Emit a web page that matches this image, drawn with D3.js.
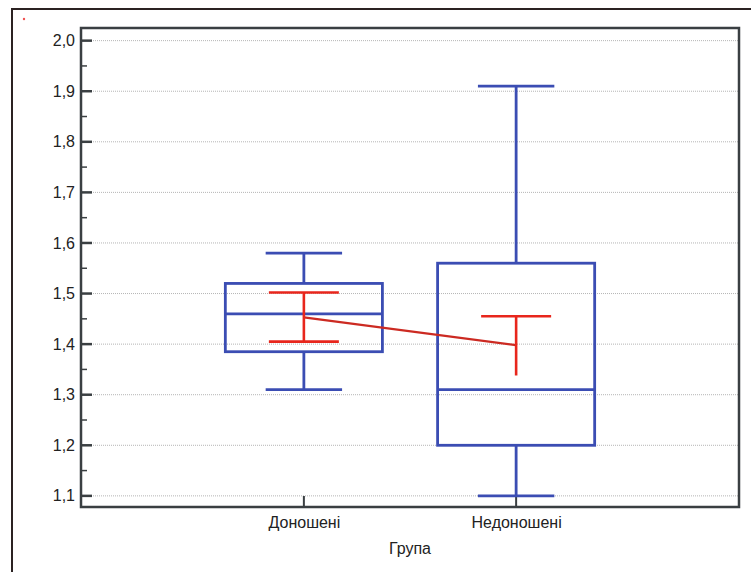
<!DOCTYPE html>
<html>
<head>
<meta charset="utf-8">
<script src="https://cdnjs.cloudflare.com/ajax/libs/d3/7.8.5/d3.min.js"></script>
<style>
  body { margin: 0; background: #fff; }
  text { font-family: "Liberation Sans", Arial, sans-serif; fill: #222; }
</style>
</head>
<body>
<script>
// groups and box-plot values
var groups = ['Доношені', 'Недоношені'];
var whiskerHigh = [1.58, 1.91];
var q3 = [1.52, 1.56];
var median = [1.46, 1.31];
var q1 = [1.385, 1.20];
var whiskerLow = [1.31, 1.10];
// mean and confidence interval (red)
var mean = [1.453, 1.398];
var ciHigh = [1.502, 1.455];
var ciLow = [1.405, 1.338];
var ciLowCap = [true, false];
var yTicks = [1.1, 1.2, 1.3, 1.4, 1.5, 1.6, 1.7, 1.8, 1.9, 2.0];
var xTitle = 'Група';

var width = 751, height = 572;
var margin = {top: 28, right: 12, bottom: 65, left: 81};
var w = width - margin.left - margin.right,
    h = height - margin.top - margin.bottom;

var blue = '#3b4db3', red = '#e8261c';

var svg = d3.select('body').append('svg')
    .attr('width', width)
    .attr('height', height);

// outer frame of the figure
svg.append('path')
    .attr('d', 'M12,' + height + 'V9H' + width)
    .attr('fill', 'none')
    .attr('stroke', '#2b2222')
    .attr('stroke-width', 2);
svg.append('circle').attr('cx', 24).attr('cy', 19).attr('r', 1.2).attr('fill', '#f05050');

var g = svg.append('g')
    .attr('transform', 'translate(' + margin.left + ',' + margin.top + ')');

var y = d3.scaleLinear().domain([1.078, 2.025]).range([h, 0]);
var x = d3.scalePoint().domain(groups).range([0, w]).padding(1.05);
var step = x.step();
var boxW = step * 0.74, capW = step * 0.36, ciW = 70;

// dotted grid
g.selectAll('.grid').data(yTicks).enter().append('line')
    .attr('x1', 0).attr('x2', w)
    .attr('y1', function(d) { return y(d); })
    .attr('y2', function(d) { return y(d); })
    .attr('stroke', '#b5b5b5')
    .attr('stroke-width', 1)
    .attr('stroke-dasharray', '1,1');

// axes
var yAxis = g.append('g')
    .call(d3.axisLeft(y).tickValues(yTicks).tickSize(0).tickPadding(6)
        .tickFormat(function(d) { return d3.format('.1f')(d).replace('.', ','); }));
yAxis.select('.domain').remove();
yAxis.selectAll('text').style('font-size', '16px');

// inner tick marks on y axis
g.selectAll('.ymaj').data(yTicks).enter().append('line')
    .attr('x1', 0).attr('x2', 11)
    .attr('y1', function(d) { return y(d); }).attr('y2', function(d) { return y(d); })
    .attr('stroke', '#3a3f42').attr('stroke-width', 2.5);
g.selectAll('.ymin').data(yTicks.slice(0, -1)).enter().append('line')
    .attr('x1', 0).attr('x2', 6)
    .attr('y1', function(d) { return y(d + 0.05); }).attr('y2', function(d) { return y(d + 0.05); })
    .attr('stroke', '#3a3f42').attr('stroke-width', 1.5);

var xAxis = g.append('g')
    .attr('transform', 'translate(0,' + h + ')')
    .call(d3.axisBottom(x).tickSize(0).tickPadding(10));
xAxis.select('.domain').remove();
xAxis.selectAll('text').style('font-size', '16px');

g.selectAll('.xt').data(groups).enter().append('line')
    .attr('x1', function(d) { return x(d); }).attr('x2', function(d) { return x(d); })
    .attr('y1', h).attr('y2', h - 11)
    .attr('stroke', '#3a3f42').attr('stroke-width', 2);

// plot frame
g.append('rect')
    .attr('width', w).attr('height', h)
    .attr('fill', 'none')
    .attr('stroke', '#3a3f42')
    .attr('stroke-width', 2.5);

g.append('text')
    .attr('x', w / 2)
    .attr('y', h + 47)
    .attr('text-anchor', 'middle')
    .style('font-size', '16px')
    .text(xTitle);

// boxes
var boxes = g.selectAll('.box').data(groups).enter().append('g')
    .attr('transform', function(d) { return 'translate(' + x(d) + ',0)'; })
    .attr('stroke', blue)
    .attr('stroke-width', 2.8)
    .attr('fill', 'none');

boxes.append('line')
    .attr('x1', 0).attr('x2', 0)
    .attr('y1', function(d, i) { return y(whiskerHigh[i]); })
    .attr('y2', function(d, i) { return y(q3[i]); });
boxes.append('line')
    .attr('x1', 0).attr('x2', 0)
    .attr('y1', function(d, i) { return y(q1[i]); })
    .attr('y2', function(d, i) { return y(whiskerLow[i]); });
boxes.append('line')
    .attr('x1', -capW / 2).attr('x2', capW / 2)
    .attr('y1', function(d, i) { return y(whiskerHigh[i]); })
    .attr('y2', function(d, i) { return y(whiskerHigh[i]); });
boxes.append('line')
    .attr('x1', -capW / 2).attr('x2', capW / 2)
    .attr('y1', function(d, i) { return y(whiskerLow[i]); })
    .attr('y2', function(d, i) { return y(whiskerLow[i]); });
boxes.append('rect')
    .attr('x', -boxW / 2).attr('width', boxW)
    .attr('y', function(d, i) { return y(q3[i]); })
    .attr('height', function(d, i) { return y(q1[i]) - y(q3[i]); });
boxes.append('line')
    .attr('x1', -boxW / 2).attr('x2', boxW / 2)
    .attr('y1', function(d, i) { return y(median[i]); })
    .attr('y2', function(d, i) { return y(median[i]); });

// mean line between groups
g.append('path')
    .datum(groups)
    .attr('d', d3.line()
        .x(function(d) { return x(d); })
        .y(function(d, i) { return y(mean[i]); }))
    .attr('fill', 'none')
    .attr('stroke', '#cc2a22')
    .attr('stroke-width', 2.2);

// confidence intervals
var ci = g.selectAll('.ci').data(groups).enter().append('g')
    .attr('transform', function(d) { return 'translate(' + x(d) + ',0)'; })
    .attr('stroke', red)
    .attr('stroke-width', 2.6);
ci.append('line')
    .attr('x1', 0).attr('x2', 0)
    .attr('y1', function(d, i) { return y(ciHigh[i]); })
    .attr('y2', function(d, i) { return y(ciLow[i]); });
ci.append('line')
    .attr('x1', -ciW / 2).attr('x2', ciW / 2)
    .attr('y1', function(d, i) { return y(ciHigh[i]); })
    .attr('y2', function(d, i) { return y(ciHigh[i]); });
ci.filter(function(d, i) { return ciLowCap[i]; }).append('line')
    .attr('x1', -ciW / 2).attr('x2', ciW / 2)
    .attr('y1', function(d) { var i = groups.indexOf(d); return y(ciLow[i]); })
    .attr('y2', function(d) { var i = groups.indexOf(d); return y(ciLow[i]); });
</script>
</body>
</html>
